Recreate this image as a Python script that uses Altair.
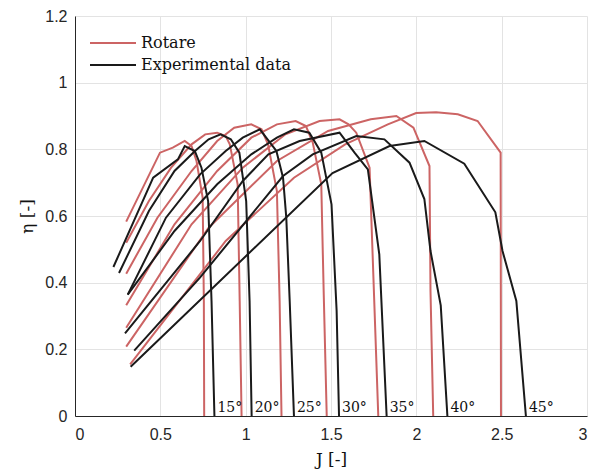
import altair as alt
import pandas as pd

pitch = ["15°", "20°", "25°", "30°", "35°", "40°", "45°"]

# Rotare (simulation) curves, one list per pitch angle
rot_J = [
    [0.30, 0.498, 0.573, 0.643, 0.683, 0.712, 0.748, 0.755, 0.757],
    [0.30, 0.433, 0.563, 0.683, 0.763, 0.833, 0.883, 0.907, 0.953, 0.965, 0.976],
    [0.30, 0.483, 0.683, 0.833, 0.933, 1.033, 1.093, 1.131, 1.183, 1.199, 1.21],
    [0.30, 0.583, 0.833, 1.033, 1.183, 1.293, 1.353, 1.393, 1.443, 1.457, 1.475],
    [0.30, 0.683, 0.983, 1.233, 1.433, 1.55, 1.603, 1.648, 1.726, 1.777],
    [0.30, 0.783, 1.183, 1.483, 1.733, 1.883, 1.983, 2.077, 2.083, 2.099],
    [0.323, 0.883, 1.283, 1.583, 1.833, 1.999, 2.116, 2.243, 2.359, 2.494, 2.496],
]
rot_eta = [
    [0.583, 0.79, 0.805, 0.825, 0.81, 0.765, 0.655, 0.345, 0.0],
    [0.52, 0.645, 0.745, 0.815, 0.845, 0.85, 0.84, 0.815, 0.695, 0.345, 0.0],
    [0.427, 0.595, 0.735, 0.825, 0.865, 0.875, 0.86, 0.815, 0.675, 0.345, 0.0],
    [0.332, 0.575, 0.735, 0.835, 0.875, 0.885, 0.87, 0.82, 0.695, 0.375, 0.0],
    [0.265, 0.575, 0.745, 0.845, 0.885, 0.89, 0.875, 0.85, 0.745, 0.0],
    [0.208, 0.565, 0.765, 0.855, 0.89, 0.90, 0.865, 0.75, 0.375, 0.0],
    [0.155, 0.525, 0.715, 0.815, 0.875, 0.909, 0.911, 0.905, 0.885, 0.79, 0.0],
]

# Experimental data curves, one list per pitch angle
exp_J = [
    [0.225, 0.458, 0.603, 0.643, 0.702, 0.741, 0.78, 0.80, 0.817],
    [0.258, 0.433, 0.583, 0.703, 0.783, 0.853, 0.913, 0.963, 1.003, 1.023, 1.035],
    [0.309, 0.533, 0.733, 0.883, 0.983, 1.083, 1.18, 1.219, 1.238, 1.258, 1.283],
    [0.309, 0.583, 0.833, 1.033, 1.183, 1.283, 1.373, 1.443, 1.503, 1.533, 1.547],
    [0.293, 0.733, 0.983, 1.133, 1.316, 1.55, 1.638, 1.716, 1.783, 1.826],
    [0.347, 0.732, 1.219, 1.393, 1.648, 1.813, 1.96, 2.047, 2.083, 2.143, 2.182],
    [0.326, 1.509, 1.843, 2.047, 2.281, 2.463, 2.505, 2.586, 2.642],
]
exp_eta = [
    [0.447, 0.715, 0.77, 0.81, 0.795, 0.745, 0.645, 0.345, 0.0],
    [0.429, 0.615, 0.735, 0.795, 0.83, 0.845, 0.83, 0.79, 0.645, 0.345, 0.0],
    [0.364, 0.595, 0.725, 0.795, 0.835, 0.86, 0.795, 0.715, 0.595, 0.345, 0.0],
    [0.364, 0.555, 0.695, 0.785, 0.835, 0.86, 0.85, 0.79, 0.635, 0.315, 0.0],
    [0.248, 0.525, 0.705, 0.785, 0.825, 0.85, 0.79, 0.74, 0.485, 0.0],
    [0.196, 0.415, 0.72, 0.785, 0.84, 0.83, 0.76, 0.651, 0.495, 0.332, 0.0],
    [0.148, 0.729, 0.81, 0.825, 0.757, 0.611, 0.495, 0.345, 0.0],
]

x_ticks = [0, 0.5, 1, 1.5, 2, 2.5, 3]
y_ticks = [0, 0.2, 0.4, 0.6, 0.8, 1, 1.2]

RED = "#cc6464"
BLACK = "#1a1a1a"
SERIF = "DejaVu Serif"
SANS = "Liberation Sans"

rows = []
for src, Js, Es in (("Rotare", rot_J, rot_eta), ("Experimental data", exp_J, exp_eta)):
    for p, js, es in zip(pitch, Js, Es):
        for i, (j, e) in enumerate(zip(js, es)):
            rows.append(dict(source=src, pitch=p, curve=src + p, idx=i, J=j, eta=e))
df = pd.DataFrame(rows)

lab_df = pd.DataFrame({"label": pitch, "J": [js[-1] for js in exp_J], "eta": [0.0] * len(pitch)})

xscale = alt.Scale(domain=[0, 3], nice=False, zero=False)
yscale = alt.Scale(domain=[0, 1.2], nice=False)

xaxis = alt.Axis(values=x_ticks, format="~g", title="J [-]", grid=True, ticks=False,
                 labelPadding=10, titlePadding=9)
yaxis = alt.Axis(values=y_ticks, format="~g", title="η [-]", grid=True, ticks=False,
                 labelPadding=8, titlePadding=8)

color = alt.Color("source:N",
                  scale=alt.Scale(domain=["Rotare", "Experimental data"], range=[RED, BLACK]),
                  legend=alt.Legend(orient="none", legendX=27, legendY=16, title=None,
                                    symbolType="M-2.3,0H2.3", symbolSize=400, symbolStrokeWidth=2,
                                    symbolFillColor="transparent",
                                    labelFont=SERIF, labelFontSize=16, labelColor="#111111",
                                    labelOffset=17, rowPadding=3, padding=0))

base = alt.Chart(df).encode(
    x=alt.X("J:Q", scale=xscale, axis=xaxis),
    y=alt.Y("eta:Q", scale=yscale, axis=yaxis),
    color=color,
    detail="curve:N",
    order="idx:Q",
)

red = base.transform_filter(alt.datum.source == "Rotare").mark_line(strokeWidth=2, clip=True)
black = base.transform_filter(alt.datum.source == "Experimental data").mark_line(strokeWidth=2, clip=True)

labels = alt.Chart(lab_df).mark_text(align="left", baseline="alphabetic", dx=3, dy=-4,
                                     font=SERIF, fontSize=14, color="#111111").encode(
    x=alt.X("J:Q", scale=xscale),
    y=alt.Y("eta:Q", scale=yscale),
    text="label:N",
)

chart = alt.layer(red, black, labels).properties(
    width=512, height=400,
    autosize=alt.AutoSizeParams(type="none"),
    padding={"left": 75, "top": 16, "right": 15, "bottom": 58},
).configure_view(stroke=None).configure_axis(
    domainColor="#262626", domainWidth=1,
    gridColor="#e3e3e3", gridWidth=1,
    labelFont=SANS, labelFontSize=16, labelColor="#262626",
    titleFont=SERIF, titleFontSize=17, titleColor="#111111", titleFontWeight="normal",
)

chart.save("out.html", embed_options={"renderer": "svg", "actions": False})
